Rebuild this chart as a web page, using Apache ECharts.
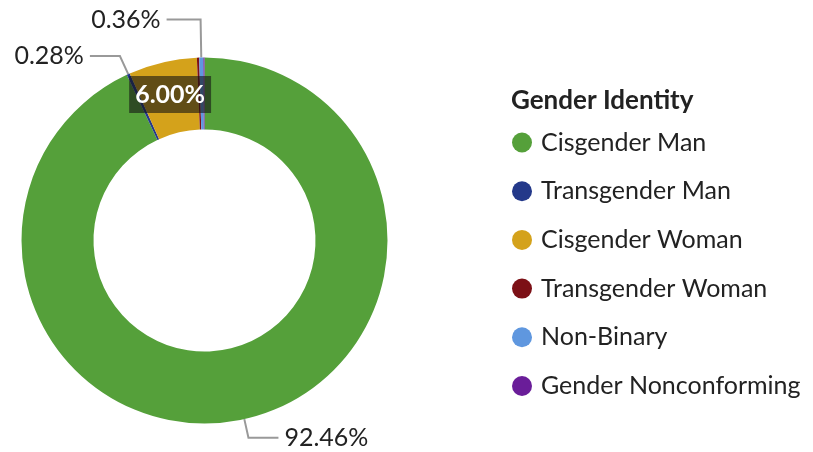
<!DOCTYPE html>
<html>
<head>
<meta charset="utf-8">
<script src="https://cdn.jsdelivr.net/npm/echarts@6/dist/echarts.min.js"></script>
<style>
  html, body { margin: 0; padding: 0; background: #fff; }
  #chart { width: 813px; height: 452px; }
</style>
</head>
<body>
<div id="chart"></div>
<script>
// gender identity breakdown (percent)
var categories = ['Cisgender Man', 'Transgender Man', 'Cisgender Woman', 'Transgender Woman', 'Non-Binary', 'Gender Nonconforming']
var values = [92.46, 0.28, 6.00, 0.2, 0.36, 0.1]
var colors = ['#55a03a', '#24398a', '#d4a21b', '#7c1016', '#5f97df', '#6a1d99']
var showLabel = [true, true, true, false, true, false]

var seriesData = []
categories.forEach(function (name, i) {
    var item = { name: name, value: values[i], itemStyle: { color: colors[i] } }
    if (!showLabel[i]) {
        item.label = { show: false }
        item.labelLine = { show: false }
    }
    seriesData.push(item)
})
// per-slice label tweaks
seriesData[0].labelLine = { length: 19, length2: 30 }
seriesData[1].labelLine = { length: 20, length2: 30 }
seriesData[4].labelLine = { length: 38, length2: 34 }
seriesData[2].label = {
    position: 'inside',
    color: '#fff',
    fontWeight: 'bold',
    fontSize: 25,
    backgroundColor: 'rgba(20,20,20,0.6)',
    padding: [6, 6]
}
seriesData[2].labelLine = { show: false }

var option = {
    animation: false,
    title: {
        text: 'Gender Identity',
        left: 506,
        top: 83,
        textStyle: { fontFamily: 'Lato', fontSize: 26, fontWeight: 'bold', color: '#222' }
    },
    legend: {
        orient: 'vertical',
        left: 512,
        top: 130,
        padding: 0,
        icon: 'circle',
        itemWidth: 20,
        itemHeight: 20,
        itemGap: 23.7,
        data: categories,
        textStyle: { fontFamily: 'Lato', fontSize: 25, lineHeight: 25, color: '#222', padding: [0, 0, 0, 4] }
    },
    series: [
        {
            type: 'pie',
            center: [204.5, 240.5],
            radius: [111, 183],
            startAngle: 90,
            clockwise: true,
            avoidLabelOverlap: false,
            minAngle: 0,
            label: {
                show: true,
                position: 'outside',
                fontFamily: 'Lato',
                fontSize: 25,
                color: '#222',
                distanceToLabelLine: 6,
                formatter: function (p) { return p.value.toFixed(2) + '%' }
            },
            labelLine: {
                show: true,
                lineStyle: { color: '#999', width: 2 }
            },
            data: seriesData
        }
    ]
}

var chart = echarts.init(document.getElementById('chart'))
chart.setOption(option)
</script>
</body>
</html>
